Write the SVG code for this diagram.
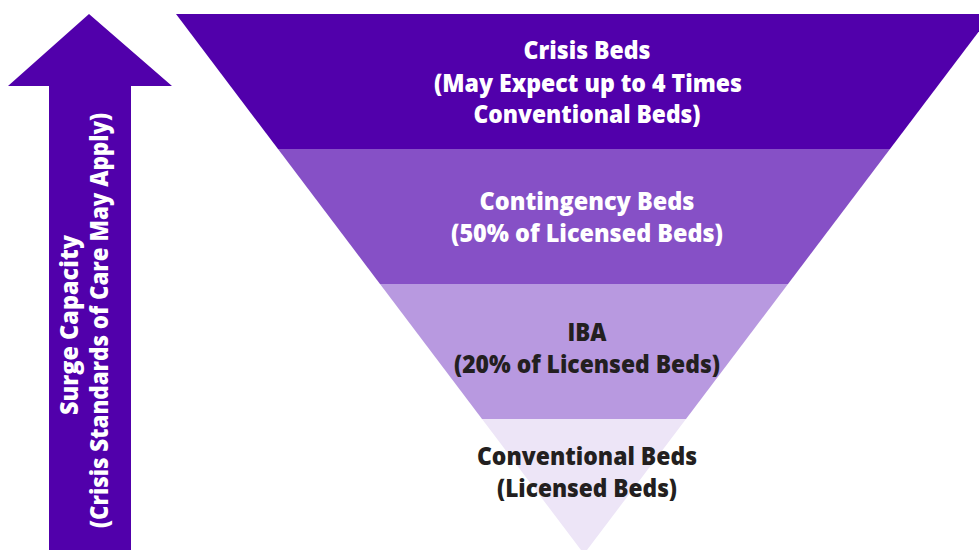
<svg xmlns="http://www.w3.org/2000/svg" width="979" height="550" viewBox="0 0 979 550">
<style>
.t{font-family:"Open Sans","Noto Sans","Liberation Sans",sans-serif;font-weight:800;font-size:24px;text-anchor:middle;}
.w{fill:#ffffff;}
.d{fill:#231F20;}
</style>
<rect width="979" height="550" fill="#ffffff"/>
<g id="arrow">
<polygon points="89,14 172,86 131,86 131,550 49,550 49,86 8,86" fill="#5100AB"/>
<text class="t w" transform="translate(78,325) rotate(-90)" textLength="180" lengthAdjust="spacingAndGlyphs">Surge Capacity</text>
<text class="t w" transform="translate(108,320.5) rotate(-90)" textLength="415" lengthAdjust="spacingAndGlyphs">(Crisis Standards of Care May Apply)</text>
</g>
<g id="crisis">
<polygon points="176,14 992,14 890,149 278,149" fill="#5100AB"/>
<text class="t w" x="587" y="59" textLength="127" lengthAdjust="spacingAndGlyphs">Crisis Beds</text>
<text class="t w" x="588" y="92" textLength="308" lengthAdjust="spacingAndGlyphs">(May Expect up to 4 Times</text>
<text class="t w" x="587" y="123" textLength="227" lengthAdjust="spacingAndGlyphs">Conventional Beds)</text>
</g>
<g id="contingency">
<polygon points="278,149 890,149 788,284 380,284" fill="#8650C6"/>
<text class="t w" x="587" y="210" textLength="215" lengthAdjust="spacingAndGlyphs">Contingency Beds</text>
<text class="t w" x="587" y="242" textLength="272" lengthAdjust="spacingAndGlyphs">(50% of Licensed Beds)</text>
</g>
<g id="iba">
<polygon points="380,284 788,284 686,419 482,419" fill="#B899E0"/>
<text class="t d" x="587" y="341" textLength="39" lengthAdjust="spacingAndGlyphs">IBA</text>
<text class="t d" x="587" y="373" textLength="266" lengthAdjust="spacingAndGlyphs">(20% of Licensed Beds)</text>
</g>
<g id="conventional">
<polygon points="482,419 686,419 584,554" fill="#EDE5F7"/>
<text class="t d" x="587" y="465" textLength="220" lengthAdjust="spacingAndGlyphs">Conventional Beds</text>
<text class="t d" x="587" y="497" textLength="180" lengthAdjust="spacingAndGlyphs">(Licensed Beds)</text>
</g>
<g id="connectors"></g>
</svg>
